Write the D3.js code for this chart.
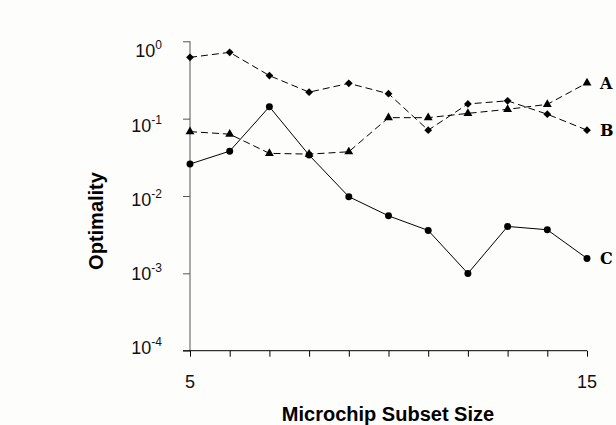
<!DOCTYPE html>
<html>
<head>
<meta charset="utf-8">
<script src="https://cdn.jsdelivr.net/npm/d3@7"></script>
<style>
  body { margin: 0; background: #fdfdfc; }
  svg { display: block; font-family: Arial, "Liberation Sans", sans-serif; }
</style>
</head>
<body>
<div id="chart"></div>
<script>
const subsetSizes = [5, 6, 7, 8, 9, 10, 11, 12, 13, 14, 15];
// triangle series, labelled A
const seriesA = [0.068, 0.063, 0.0356, 0.0348, 0.0373, 0.103, 0.103, 0.117, 0.132, 0.153, 0.29];
// diamond series, labelled B
const seriesB = [0.62, 0.72, 0.36, 0.22, 0.286, 0.21, 0.071, 0.155, 0.17, 0.114, 0.071];
// circle series, labelled C
const seriesC = [0.0259, 0.038, 0.1426, 0.0338, 0.0098, 0.00554, 0.00359, 0.000997, 0.00404, 0.00366, 0.00156];
const yTicks = [1e-4, 1e-3, 1e-2, 1e-1, 1];
const xTickLabels = [5, 15];

const width = 616, height = 425;

const svg = d3.select("#chart")
  .append("svg")
  .attr("width", width)
  .attr("height", height);

const x = d3.scaleLinear().domain([5, 15]).range([190, 587]);
const y = d3.scaleLog().domain([1e-4, 1]).range([350.7, 41.3]);
// the tick labels sit on a slightly tighter spacing than the ticks
const yLabel = d3.scaleLog().domain([1e-4, 1]).range([354.3, 57.3]);

// y axis
const yAxis = svg.append("g")
  .attr("transform", "translate(190,0)")
  .call(d3.axisLeft(y).tickValues(yTicks).tickSize(7).tickFormat(""));
yAxis.select(".domain").attr("stroke", "#555").attr("d", `M0,${y(1)}V${y(1e-4)}`);
yAxis.selectAll(".tick line").attr("stroke", "#555");

svg.append("g")
  .selectAll("text")
  .data(yTicks)
  .join("text")
  .attr("x", 162)
  .attr("y", (d) => yLabel(d))
  .attr("text-anchor", "end")
  .attr("font-size", 18)
  .attr("fill", "#111")
  .each(function (d) {
    const t = d3.select(this);
    t.append("tspan").text("10");
    t.append("tspan")
      .attr("dy", -8)
      .attr("font-size", 12)
      .text(Math.round(Math.log10(d)));
  });

// x axis
const xAxis = svg.append("g")
  .attr("transform", `translate(0,${y(1e-4)})`)
  .call(d3.axisBottom(x).tickValues(subsetSizes).tickSize(6).tickFormat(""));
xAxis.select(".domain").attr("stroke", "#000").attr("d", `M183,0H${x(15)}`);

svg.append("g")
  .selectAll("text")
  .data(xTickLabels)
  .join("text")
  .attr("x", (d) => x(d))
  .attr("y", 388)
  .attr("text-anchor", "middle")
  .attr("font-size", 18)
  .attr("fill", "#111")
  .text((d) => d);

// axis titles
svg.append("text")
  .attr("x", 388)
  .attr("y", 421)
  .attr("text-anchor", "middle")
  .attr("font-size", 20)
  .attr("font-weight", "bold")
  .text("Microchip Subset Size");

svg.append("text")
  .attr("transform", "translate(103,221) rotate(-90)")
  .attr("text-anchor", "middle")
  .attr("font-size", 20)
  .attr("font-weight", "bold")
  .text("Optimality");

const line = d3.line()
  .x((d, i) => x(subsetSizes[i]))
  .y((d) => y(d));

const series = [
  { name: "A", values: seriesA, dash: "7,4", symbol: d3.symbolTriangle, size: 34, rot: 0 },
  { name: "B", values: seriesB, dash: "7,4", symbol: d3.symbolSquare, size: 30, rot: 45 },
  { name: "C", values: seriesC, dash: null, symbol: d3.symbolCircle, size: 38, rot: 0 },
];

series.forEach((s) => {
  svg.append("path")
    .datum(s.values)
    .attr("fill", "none")
    .attr("stroke", "#000")
    .attr("stroke-width", 1)
    .attr("stroke-dasharray", s.dash)
    .attr("d", line);

  svg.append("g")
    .selectAll("path")
    .data(s.values)
    .join("path")
    .attr("transform", (d, i) => `translate(${x(subsetSizes[i])},${y(d)}) rotate(${s.rot})`)
    .attr("d", d3.symbol().type(s.symbol).size(s.size))
    .attr("fill", "#000");

  svg.append("text")
    .attr("x", x(15) + 13)
    .attr("y", y(s.values[s.values.length - 1]))
    .attr("dy", "0.36em")
    .attr("font-family", "'DejaVu Serif', serif")
    .attr("font-weight", "bold")
    .attr("font-size", 16)
    .text(s.name);
});
</script>
</body>
</html>
